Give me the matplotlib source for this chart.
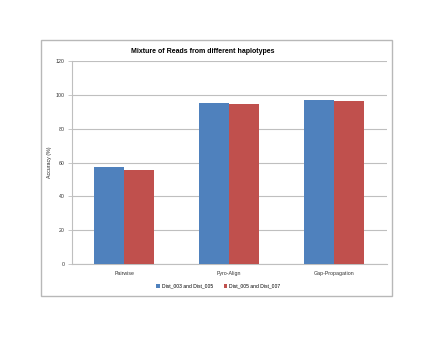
import matplotlib
matplotlib.use("Agg")
import matplotlib.pyplot as plt
import numpy as np
from matplotlib.patches import Rectangle

categories = ["Pairwise", "Pyro-Align", "Gap-Propagation"]
series_names = ["Dist_003 and Dist_005", "Dist_005 and Dist_007"]
dist_003_005 = [57.3, 95.2, 96.9]
dist_005_007 = [55.4, 94.4, 96.3]
yticks = [0, 20, 40, 60, 80, 100, 120]

BLUE = "#4F81BD"
RED = "#C0504D"
GRID = "#bfbfbf"
FONT = "Liberation Sans"


def main() -> None:
    fig = plt.figure(figsize=(4.4, 3.4), dpi=100)
    fig.patch.set_facecolor("white")

    # outer chart border
    fig.patches.append(Rectangle((0.0925, 0.129), 0.798, 0.753, transform=fig.transFigure,
                                 fill=False, edgecolor="#b8b8b8", linewidth=1.0))

    ax = fig.add_axes([0.163, 0.2235, 0.716, 0.597])
    x = np.arange(len(categories))
    w = 0.286
    ax.bar(x - w / 2, dist_003_005, width=w, color=BLUE, label=series_names[0], zorder=3)
    ax.bar(x + w / 2, dist_005_007, width=w, color=RED, label=series_names[1], zorder=3)

    ax.set_xlim(-0.5, len(categories) - 0.5)
    ax.set_ylim(0, 120)
    ax.set_yticks(yticks)
    ax.set_yticklabels([str(v) for v in yticks], fontsize=3.8, family=FONT, color="#333333")
    ax.set_xticks(x)
    ax.set_xticklabels(categories, fontsize=3.8, family=FONT, color="#333333")
    ax.tick_params(axis="x", length=0, pad=5)
    ax.tick_params(axis="y", length=3, width=0.6, color=GRID, pad=2)
    ax.yaxis.grid(True, color=GRID, linewidth=0.8, zorder=0)
    ax.set_axisbelow(True)
    for s in ["top", "right"]:
        ax.spines[s].set_visible(False)
    for s in ["left", "bottom"]:
        ax.spines[s].set_color(GRID)
        ax.spines[s].set_linewidth(0.8)

    ax.set_ylabel("Accuracy (%)", fontsize=3.8, family=FONT, labelpad=3, color="#222222")
    fig.text(0.46, 0.848, "Mixture of Reads from different haplotypes", ha="center", va="center",
             fontsize=5.0, fontweight="bold", family=FONT)

    ax.legend(loc="upper center", bbox_to_anchor=(0.465, -0.075), ncol=2, frameon=False,
              prop={"family": FONT, "size": 3.6}, handlelength=0.7, handleheight=0.7,
              columnspacing=2.2, handletextpad=0.4)

    fig.savefig("out.png", dpi=100)
    plt.close(fig)


if __name__ == "__main__":
    main()
